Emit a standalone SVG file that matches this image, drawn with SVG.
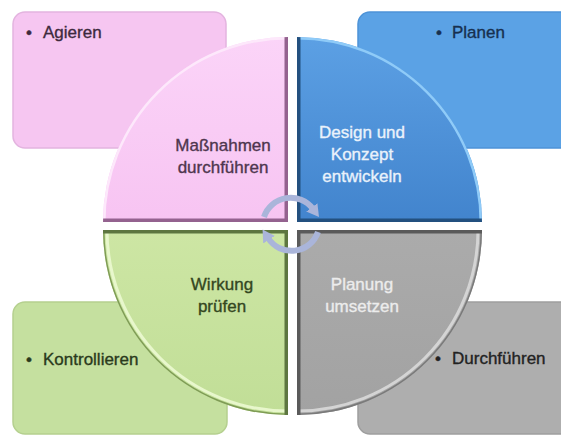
<svg xmlns="http://www.w3.org/2000/svg" width="561" height="437" viewBox="0 0 561 437">
<style>
  text { font-family: "Liberation Sans", Arial, sans-serif; font-size: 17px; stroke-width: 0.35; }
  .qt { text-anchor: middle; }
  .edge { fill: none; stroke-width: 7; }
  .hl { fill: none; stroke-width: 5; }
  .arr { fill: none; stroke: #aab5da; stroke-width: 6; stroke-linecap: butt; }
</style>
<defs>
  <linearGradient id="gPink" x1="0" y1="0" x2="0" y2="1">
    <stop offset="0" stop-color="#fbd4f8"/><stop offset="1" stop-color="#f7c4f2"/>
  </linearGradient>
  <linearGradient id="gBlue" x1="0" y1="0" x2="0" y2="1">
    <stop offset="0" stop-color="#5ca0e4"/><stop offset="1" stop-color="#4284cd"/>
  </linearGradient>
  <linearGradient id="gGreen" x1="0" y1="0" x2="0" y2="1">
    <stop offset="0" stop-color="#cde6a4"/><stop offset="1" stop-color="#c1de97"/>
  </linearGradient>
  <linearGradient id="gGray" x1="0" y1="0" x2="0" y2="1">
    <stop offset="0" stop-color="#ababab"/><stop offset="1" stop-color="#a2a2a2"/>
  </linearGradient>
  <clipPath id="cPink"><path d="M288,222 L103,222 A185,185 0 0 1 288,37 Z"/></clipPath>
  <clipPath id="cBlue"><path d="M297,222 L297,37 A185,185 0 0 1 482,222 Z"/></clipPath>
  <clipPath id="cGreen"><path d="M288,230 L288,415 A185,185 0 0 1 103,230 Z"/></clipPath>
  <clipPath id="cGray"><path d="M297,230 L482,230 A185,185 0 0 1 297,415 Z"/></clipPath>
  <marker id="ah" markerUnits="userSpaceOnUse" markerWidth="14" markerHeight="14" refX="2" refY="7" orient="auto">
    <path d="M0,0 L12,7 L0,14 Z" fill="#aab5da"/>
  </marker>
</defs>

<g id="box-agieren">
  <rect x="13" y="12" width="213" height="136" rx="12" fill="#f6c6f1" stroke="#e3b4df" stroke-width="1.5"/>
  <text y="38" fill="#3d2a3d" stroke="#3d2a3d"><tspan x="26">•</tspan><tspan x="43">Agieren</tspan></text>
</g>
<g id="box-planen">
  <rect x="358" y="12" width="215" height="136" rx="12" fill="#5ba2e5" stroke="#4d93d8" stroke-width="1.5"/>
  <text y="38" fill="#17304f" stroke="#17304f"><tspan x="436">•</tspan><tspan x="452">Planen</tspan></text>
</g>
<g id="box-kontrollieren">
  <rect x="13" y="302" width="214" height="132" rx="12" fill="#c5e09f" stroke="#b5d08f" stroke-width="1.5"/>
  <text y="365" fill="#2a3a1c" stroke="#2a3a1c"><tspan x="26">•</tspan><tspan x="43">Kontrollieren</tspan></text>
</g>
<g id="box-durchfuehren">
  <rect x="358" y="302" width="215" height="132" rx="12" fill="#aeaeae" stroke="#9e9e9e" stroke-width="1.5"/>
  <text y="364" fill="#222" stroke="#222"><tspan x="435">•</tspan><tspan x="452">Durchführen</tspan></text>
</g>

<g id="q-massnahmen">
  <path d="M288,222 L103,222 A185,185 0 0 1 288,37 Z" fill="url(#gPink)"/>
  <g clip-path="url(#cPink)">
    <path class="hl" d="M103,222 A185,185 0 0 1 288,37" stroke="#fde8fb"/>
    <path class="edge" d="M288,37 L288,222 L103,222" stroke="#94628f"/>
  </g>
  <text class="qt" x="223" y="151" fill="#4e364e" stroke="#4e364e">Maßnahmen</text>
  <text class="qt" x="223" y="173" fill="#4e364e" stroke="#4e364e">durchführen</text>
</g>
<g id="q-design">
  <path d="M297,222 L297,37 A185,185 0 0 1 482,222 Z" fill="url(#gBlue)"/>
  <g clip-path="url(#cBlue)">
    <path class="hl" d="M297,37 A185,185 0 0 1 482,222" stroke="#8fcbf8"/>
    <path class="edge" d="M297,37 L297,222 L482,222" stroke="#23507f"/>
  </g>
  <text class="qt" x="362" y="138" fill="#eaf2fb" stroke="#eaf2fb">Design und</text>
  <text class="qt" x="362" y="160" fill="#eaf2fb" stroke="#eaf2fb">Konzept</text>
  <text class="qt" x="362" y="182" fill="#eaf2fb" stroke="#eaf2fb">entwickeln</text>
</g>
<g id="q-wirkung">
  <path d="M288,230 L288,415 A185,185 0 0 1 103,230 Z" fill="url(#gGreen)"/>
  <g clip-path="url(#cGreen)">
    <path d="M288,415 A185,185 0 0 1 103,230" fill="none" stroke="#7f9c56" stroke-width="3"/>
    <path d="M288,411 A181,181 0 0 1 107,230" fill="none" stroke="#e8f7cc" stroke-width="3"/>
    <path class="edge" d="M103,230 L288,230 L288,415" stroke="#5d7640"/>
  </g>
  <text class="qt" x="222" y="290" fill="#34471f" stroke="#34471f">Wirkung</text>
  <text class="qt" x="222" y="312" fill="#34471f" stroke="#34471f">prüfen</text>
</g>
<g id="q-planung">
  <path d="M297,230 L482,230 A185,185 0 0 1 297,415 Z" fill="url(#gGray)"/>
  <g clip-path="url(#cGray)">
    <path d="M482,230 A185,185 0 0 1 297,415" fill="none" stroke="#7a7a7a" stroke-width="3"/>
    <path d="M478,230 A181,181 0 0 1 297,411" fill="none" stroke="#d4d4d4" stroke-width="3"/>
    <path class="edge" d="M297,415 L297,230 L482,230" stroke="#5a5a5a"/>
  </g>
  <text class="qt" x="362" y="290" fill="#ececec" stroke="#ececec">Planung</text>
  <text class="qt" x="362" y="312" fill="#ececec" stroke="#ececec">umsetzen</text>
</g>

<g id="connectors">
  <path class="arr" d="M264,217 A28,28 0 0 1 313,209" marker-end="url(#ah)"/>
  <path class="arr" d="M318,232 A28,28 0 0 1 268,238" marker-end="url(#ah)"/>
</g>
</svg>
